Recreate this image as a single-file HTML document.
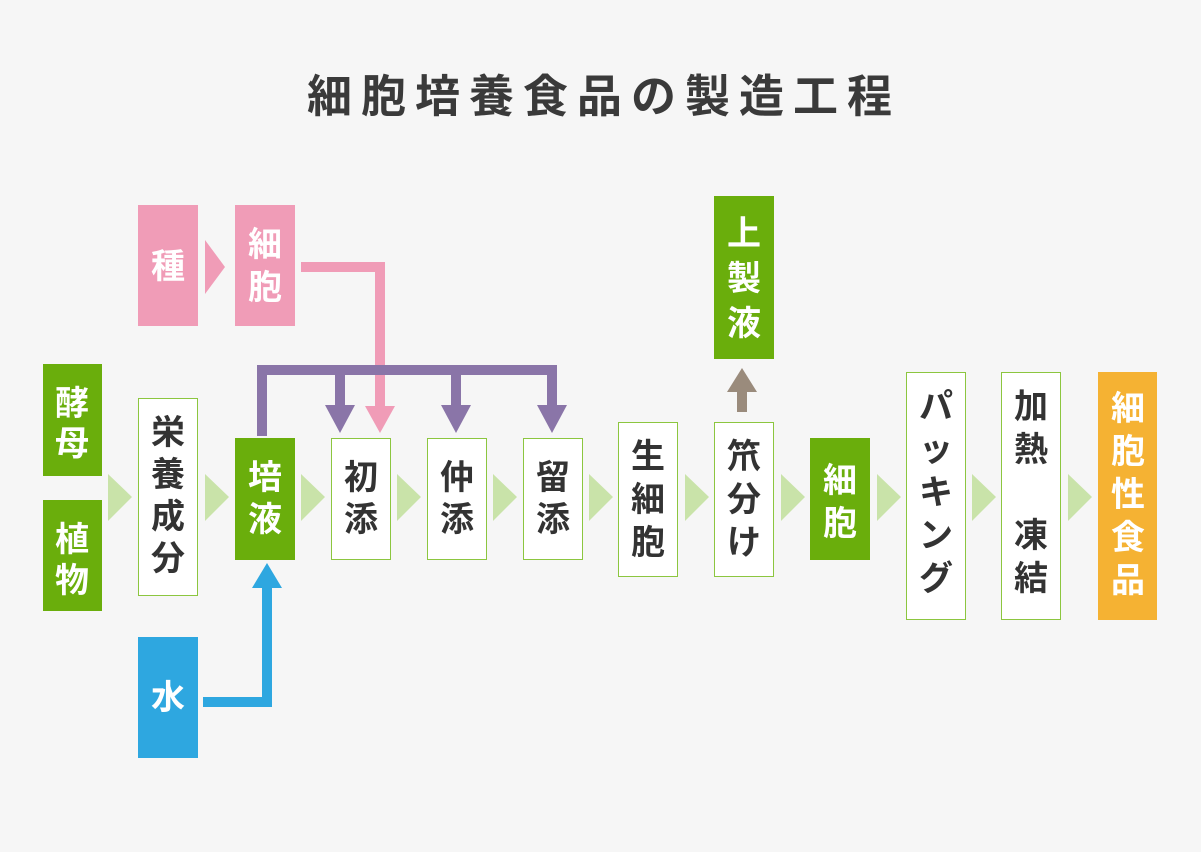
<!DOCTYPE html>
<html><head><meta charset="utf-8"><style>
html,body{margin:0;padding:0;background:#f6f6f6;}
svg{display:block}
text{font-family:"Liberation Sans","Noto Sans CJK JP",sans-serif;font-weight:bold;}
</style></head><body>
<svg width="1201" height="852" viewBox="0 0 1201 852" xmlns="http://www.w3.org/2000/svg">
<rect width="1201" height="852" fill="#f6f6f6"/>
<text x="604" y="112" font-size="45" fill="#3a3a3a" text-anchor="middle" letter-spacing="9">細胞培養食品の製造工程</text>

<g fill="#c9e3a9">
<polygon points="108,474 132,497 108,521"/>
<polygon points="205,474 229,497 205,521"/>
<polygon points="301,474 325,497 301,521"/>
<polygon points="397,474 421,497 397,521"/>
<polygon points="493,474 517,497 493,521"/>
<polygon points="589,474 613,497 589,521"/>
<polygon points="685,474 709,497 685,521"/>
<polygon points="781,474 805,497 781,521"/>
<polygon points="877,474 901,497 877,521"/>
<polygon points="972,474 996,497 972,521"/>
<polygon points="1068,474 1092,497 1068,521"/>
</g>
<polygon points="205,240 225,267 205,294" fill="#f09cb7"/>

<polyline points="301,267 380,267 380,410" fill="none" stroke="#f09cb7" stroke-width="10"/>
<polygon points="365,406 395,406 380,433" fill="#f09cb7"/>
<polyline points="262,436 262,370 552,370 552,410" fill="none" stroke="#8a75a8" stroke-width="10"/>
<line x1="340" y1="370" x2="340" y2="410" stroke="#8a75a8" stroke-width="10"/>
<line x1="456" y1="370" x2="456" y2="410" stroke="#8a75a8" stroke-width="10"/>
<polygon points="325,405 355,405 340,433" fill="#8a75a8"/>
<polygon points="441,405 471,405 456,433" fill="#8a75a8"/>
<polygon points="537,405 567,405 552,433" fill="#8a75a8"/>
<line x1="380" y1="375" x2="380" y2="410" stroke="#f09cb7" stroke-width="10"/>
<polyline points="203,702 267,702 267,585" fill="none" stroke="#2ea7e0" stroke-width="10"/>
<polygon points="252,588 282,588 267,563" fill="#2ea7e0"/>
<rect x="737" y="390" width="10" height="22" fill="#9a8b7c"/>
<polygon points="727,392 757,392 742,368" fill="#9a8b7c"/>

<g>
<rect x="138" y="205" width="60" height="121" fill="#f09cb7"/>
<rect x="235" y="205" width="60" height="121" fill="#f09cb7"/>
<rect x="43" y="364" width="59" height="112" fill="#6aae0c"/>
<rect x="43" y="500" width="59" height="111" fill="#6aae0c"/>
<rect x="138.5" y="398.5" width="59" height="197" fill="#fff" stroke="#8cc63f"/>
<rect x="235" y="438" width="60" height="122" fill="#6aae0c"/>
<rect x="331.5" y="438.5" width="59" height="121" fill="#fff" stroke="#8cc63f"/>
<rect x="427.5" y="438.5" width="59" height="121" fill="#fff" stroke="#8cc63f"/>
<rect x="523.5" y="438.5" width="59" height="121" fill="#fff" stroke="#8cc63f"/>
<rect x="618.5" y="422.5" width="59" height="154" fill="#fff" stroke="#8cc63f"/>
<rect x="714.5" y="422.5" width="59" height="154" fill="#fff" stroke="#8cc63f"/>
<rect x="714" y="196" width="60" height="163" fill="#6aae0c"/>
<rect x="810" y="438" width="60" height="122" fill="#6aae0c"/>
<rect x="906.5" y="372.5" width="59" height="247" fill="#fff" stroke="#8cc63f"/>
<rect x="1001.5" y="372.5" width="59" height="247" fill="#fff" stroke="#8cc63f"/>
<rect x="1098" y="372" width="59" height="248" fill="#f5b233"/>
<rect x="138" y="637" width="60" height="121" fill="#2ea7e0"/>
</g>

<g font-size="34" text-anchor="middle">
<g fill="#fff">
<text x="168" y="278">種</text>
<text x="265" y="256">細</text><text x="265" y="299">胞</text>
<text x="72" y="415">酵</text><text x="72" y="455">母</text>
<text x="72" y="551">植</text><text x="72" y="592">物</text>
<text x="265" y="489">培</text><text x="265" y="531">液</text>
<text x="744" y="245">上</text><text x="744" y="290">製</text><text x="744" y="335">液</text>
<text x="840" y="492">細</text><text x="840" y="535">胞</text>
<text x="1128" y="420">細</text><text x="1128" y="463">胞</text><text x="1128" y="506">性</text><text x="1128" y="549">食</text><text x="1128" y="592">品</text>
<text x="168" y="709">水</text>
</g>
<g fill="#333">
<text x="168" y="444">栄</text><text x="168" y="486">養</text><text x="168" y="528">成</text><text x="168" y="570">分</text>
<text x="361" y="489">初</text><text x="361" y="531">添</text>
<text x="457" y="489">仲</text><text x="457" y="531">添</text>
<text x="553" y="489">留</text><text x="553" y="531">添</text>
<text x="648" y="468">生</text><text x="648" y="511">細</text><text x="648" y="554">胞</text>
<text x="744" y="468">笊</text><text x="744" y="511">分</text><text x="744" y="554">け</text>
<text x="936" y="418">パ</text><text x="936" y="461">ッ</text><text x="936" y="504">キ</text><text x="936" y="547">ン</text><text x="936" y="590">グ</text>
<text x="1031" y="418">加</text><text x="1031" y="461">熱</text><text x="1031" y="547">凍</text><text x="1031" y="590">結</text>
</g>
</g>
</svg>
</body></html>
